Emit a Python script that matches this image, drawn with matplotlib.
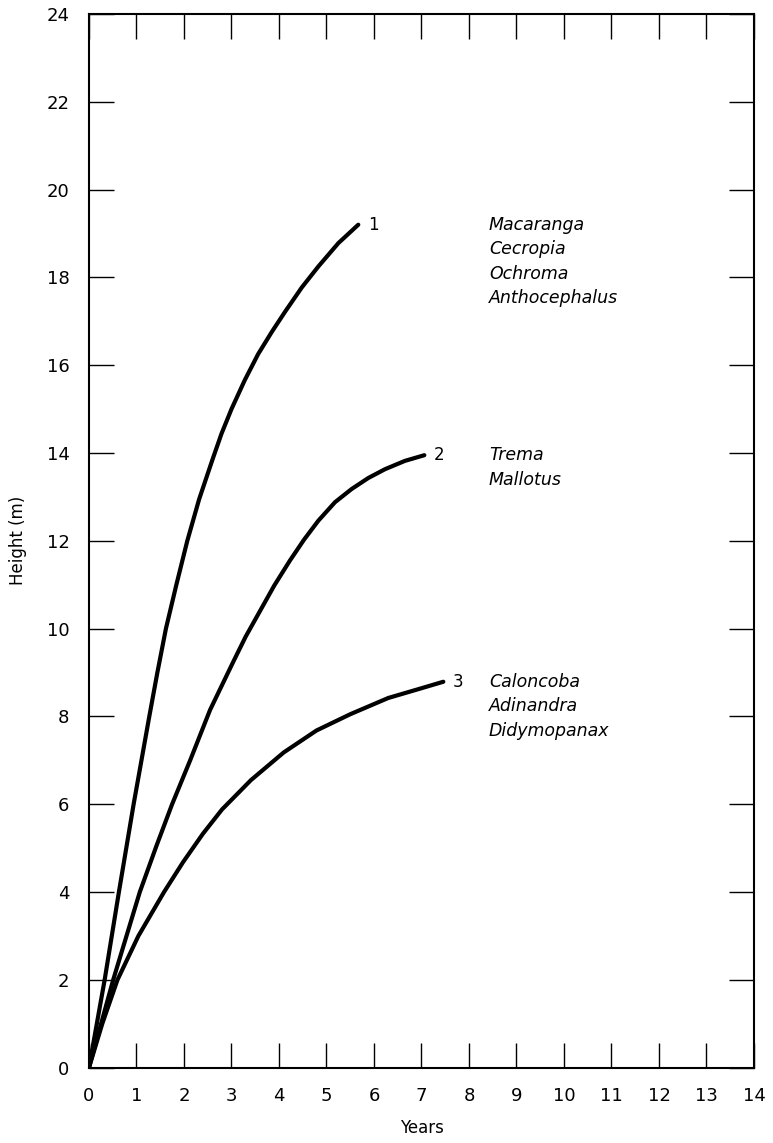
import matplotlib
matplotlib.use("Agg")
import matplotlib.pyplot as plt

# Height growth curves (years, metres)
years_1 = [0, 0.33, 0.63, 0.94, 1.27, 1.44, 1.62, 1.84, 2.07, 2.32, 2.6, 2.79, 3.0,
           3.28, 3.56, 3.85, 4.13, 4.48, 4.83, 5.25, 5.67]
height_1 = [0, 2.0, 4.0, 6.0, 8.0, 9.0, 10.0, 11.0, 12.0, 12.95, 13.85, 14.44, 15.0,
            15.66, 16.25, 16.76, 17.22, 17.77, 18.25, 18.78, 19.2]

years_2 = [0, 0.51, 1.07, 1.42, 1.75, 2.13, 2.55, 3.04, 3.3, 3.6, 3.9, 4.23, 4.53,
           4.83, 5.18, 5.53, 5.88, 6.23, 6.65, 7.06]
height_2 = [0, 2.0, 4.0, 5.05, 6.0, 7.0, 8.15, 9.25, 9.82, 10.4, 10.98, 11.55, 12.03,
            12.46, 12.88, 13.18, 13.43, 13.63, 13.82, 13.95]

years_3 = [0, 0.28, 0.6, 1.04, 1.58, 1.98, 2.4, 2.8, 3.41, 4.1, 4.79, 5.5, 6.3, 6.93, 7.46]
height_3 = [0, 1.0, 2.0, 3.0, 4.0, 4.68, 5.33, 5.88, 6.55, 7.18, 7.68, 8.05, 8.42, 8.62, 8.79]

curve_ids = ["1", "2", "3"]
genera = [
    ["Macaranga", "Cecropia", "Ochroma", "Anthocephalus"],
    ["Trema", "Mallotus"],
    ["Caloncoba", "Adinandra", "Didymopanax"],
]

x_ticks = list(range(0, 15))
y_ticks = list(range(0, 25, 2))

fig = plt.figure(figsize=(7.73, 11.43), dpi=100)
ax = fig.add_axes([0.1151, 0.0659, 0.8603, 0.9219])

curves = [(years_1, height_1), (years_2, height_2), (years_3, height_3)]
for (xs, ys), cid, names in zip(curves, curve_ids, genera):
    ax.plot(xs, ys, color="black", lw=3.0, solid_capstyle="round",
            solid_joinstyle="round")
    # curve number just past the end of the line
    ax.annotate(cid, xy=(xs[-1], ys[-1]), xytext=(7, 0), textcoords="offset points",
                ha="left", va="center", fontsize=12)
    # genus names, one per line
    for i, name in enumerate(names):
        ax.annotate(name, xy=(8.42, ys[-1]), xytext=(0, -i * 17.6),
                    textcoords="offset points", ha="left", va="center",
                    fontsize=12.5, style="italic")

ax.set_xlim(0, 14)
ax.set_ylim(0, 24)
ax.set_xticks(x_ticks)
ax.set_yticks(y_ticks)
ax.tick_params(direction="in", length=18, width=1.0, top=True, right=True,
               labelsize=13, pad=14)
for sp in ax.spines.values():
    sp.set_linewidth(1.5)

ax.set_xlabel("Years", fontsize=12, labelpad=10)
ax.set_ylabel("Height (m)", fontsize=12, labelpad=14)

fig.savefig("out.png", dpi=100)
